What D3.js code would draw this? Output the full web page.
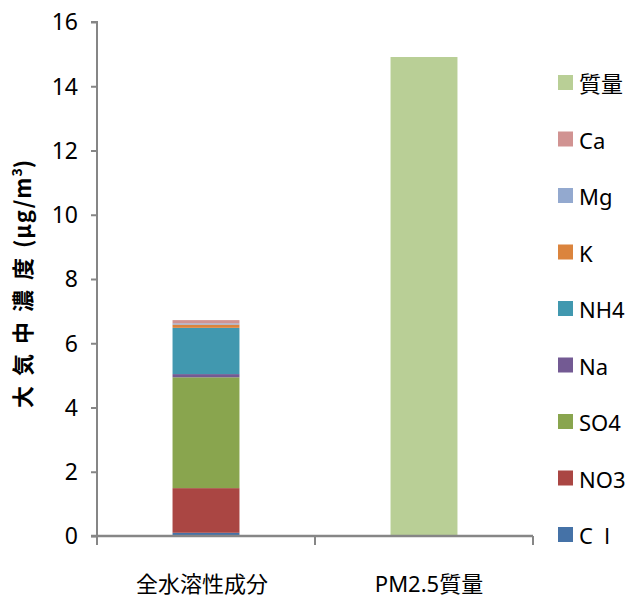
<!DOCTYPE html>
<html>
<head>
<meta charset="utf-8">
<script src="https://cdn.jsdelivr.net/npm/d3@7"></script>
<style>
  html, body { margin: 0; padding: 0; background: #fff; }
  svg { display: block; }
  text { font-family: "Liberation Sans Narrow", "Noto Sans", sans-serif; fill: #000; }
</style>
</head>
<body>
<svg id="chart" width="626" height="599"></svg>
<script>
// Categories on the x axis
const categories = ["全水溶性成分", "PM2.5質量"];
// Stack order, bottom to top
const series = ["Cl", "NO3", "SO4", "Na", "NH4", "K", "Mg", "Ca", "mass"];
const seriesLabels = ["C  l", "NO3", "SO4", "Na", "NH4", "K", "Mg", "Ca", "質量"];
const seriesColors = ["#4572A7", "#AA4643", "#89A54E", "#735A93", "#4198AF", "#DB843D", "#93A9CF", "#D19392", "#B9CF96"];
// Concentrations (µg/m³) for each category, per series
const Cl   = [0.10, 0];
const NO3  = [1.39, 0];
const SO4  = [3.45, 0];
const Na   = [0.10, 0];
const NH4  = [1.44, 0];
const K    = [0.10, 0];
const Mg   = [0.04, 0];
const Ca   = [0.10, 0];
const mass = [0, 14.91];
const yTicks = [0, 2, 4, 6, 8, 10, 12, 14, 16];

(function draw() {
  const values = { Cl, NO3, SO4, Na, NH4, K, Mg, Ca, mass };
  const rows = categories.map((c, i) => {
    const r = { category: c };
    series.forEach(s => r[s] = values[s][i]);
    return r;
  });

  const svg = d3.select("#chart");
  const plotLeft = 97, plotRight = 533, plotTop = 22, plotBottom = 536;
  const narrow = "'Liberation Sans Narrow', 'Noto Sans', sans-serif";
  const narrowCJK = "'Liberation Sans Narrow', 'Noto Sans', 'Noto Sans CJK JP', sans-serif";

  const x = d3.scaleBand().domain(categories).range([plotLeft, plotRight])
    .paddingInner(0.693).paddingOuter(0.3465);
  const y = d3.scaleLinear().domain([0, 16]).range([plotBottom, plotTop]);

  const stacked = d3.stack().keys(series)(rows);

  // Bars
  svg.append("g").selectAll("g").data(stacked).join("g")
    .attr("fill", (d, i) => seriesColors[i])
    .selectAll("rect").data(d => d).join("rect")
    .attr("x", d => x(d.data.category))
    .attr("width", x.bandwidth())
    .attr("y", d => y(d[1]))
    .attr("height", d => y(d[0]) - y(d[1]));

  const axisColor = "#868686";

  // Y axis
  const yAxis = svg.append("g").attr("transform", `translate(${plotLeft},0)`)
    .call(d3.axisLeft(y).tickValues(yTicks).tickSize(6).tickPadding(13).tickFormat(d3.format("d")));
  yAxis.select(".domain").attr("stroke", axisColor).attr("stroke-width", 2).attr("d", `M-6,${plotTop}H0V${plotBottom}`);
  yAxis.selectAll(".tick line").attr("stroke", axisColor).attr("stroke-width", 2);
  yAxis.selectAll(".tick text").style("font-size", "23px").style("font-family", narrow)
    .attr("dy", "0.34em");

  // X axis with category boundary ticks
  const xg = svg.append("g");
  xg.append("line").attr("x1", plotLeft - 6).attr("x2", plotRight).attr("y1", plotBottom).attr("y2", plotBottom)
    .attr("stroke", axisColor).attr("stroke-width", 2.5);
  const boundaries = [plotLeft, (x(categories[0]) + x.bandwidth() + x(categories[1])) / 2, plotRight];
  xg.selectAll("line.b").data(boundaries).join("line").attr("class", "b")
    .attr("x1", d => d).attr("x2", d => d).attr("y1", plotBottom).attr("y2", plotBottom + 9)
    .attr("stroke", axisColor).attr("stroke-width", 2);
  xg.selectAll("text").data(categories).join("text")
    .attr("x", d => x(d) + x.bandwidth() / 2 + (d === categories[1] ? 5 : -4))
    .attr("y", 592)
    .attr("text-anchor", "middle")
    .style("font-size", "22px")
    .style("font-family", narrowCJK)
    .text(d => d);

  // Y axis title
  const yt = svg.append("text")
    .attr("transform", `translate(31,${(150 + 418) / 2}) rotate(-90)`)
    .attr("text-anchor", "middle")
    .style("font-size", "22px")
    .style("font-weight", "bold")
    .style("font-family", "'Noto Sans CJK JP', sans-serif");
  yt.append("tspan").style("letter-spacing", "10px").text("大気中濃度");
  yt.append("tspan").style("letter-spacing", "1px").text("(µg/m");
  yt.append("tspan").attr("dy", -9).style("font-size", "14px").text("3");
  yt.append("tspan").attr("dy", 9).text(")");

  // Legend, top entry is the last series
  const legendItems = series.map((s, i) => ({ label: seriesLabels[i], color: seriesColors[i] })).reverse();
  const lg = svg.append("g").selectAll("g").data(legendItems).join("g")
    .attr("transform", (d, i) => `translate(558,${83 + i * 56.5})`);
  lg.append("rect").attr("x", 0).attr("y", -8).attr("width", 15).attr("height", 15).attr("fill", d => d.color);
  lg.append("text").attr("x", 21).attr("y", 9)
    .style("font-size", "22px")
    .style("font-family", narrowCJK)
    .style("white-space", "pre")
    .text(d => d.label);
})();
</script>
</body>
</html>
